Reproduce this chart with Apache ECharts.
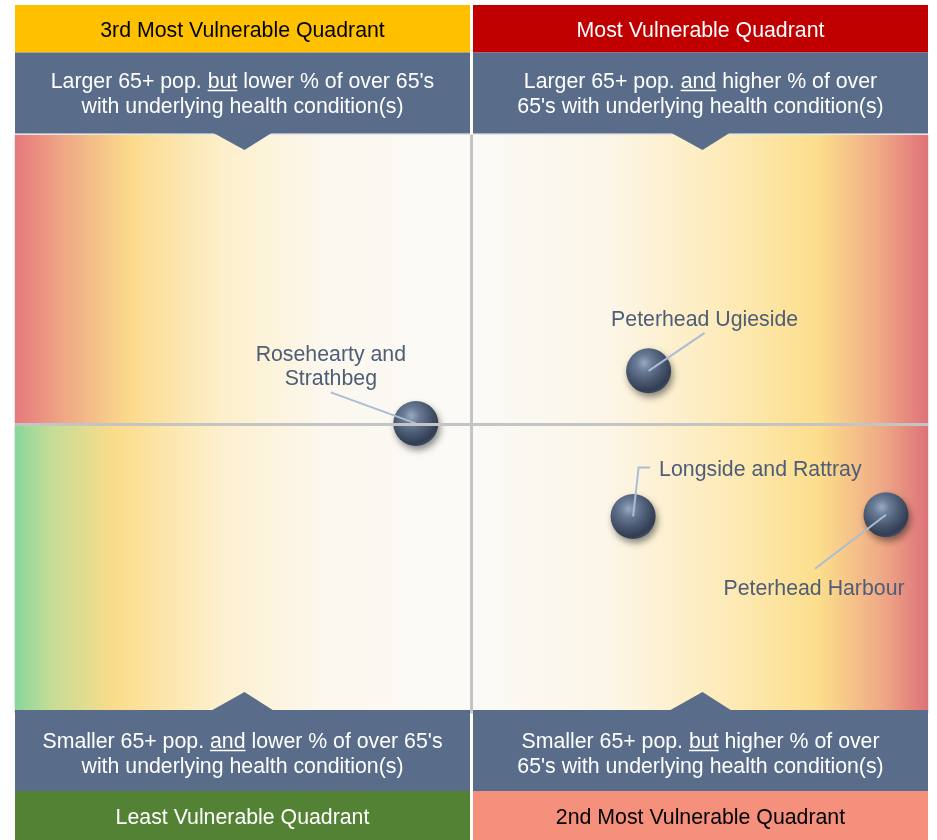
<!DOCTYPE html>
<html>
<head>
<meta charset="utf-8">
<script src="https://cdn.jsdelivr.net/npm/echarts@6/dist/echarts.min.js"></script>
<style>
html, body { margin: 0; padding: 0; background: #fff; }
#main { width: 937px; height: 840px; }
</style>
</head>
<body>
<div id="main"></div>
<script>
// areas plotted: x = % of over 65s with underlying condition, y = size of 65+ population
var areaNames = ['Rosehearty and\nStrathbeg', 'Peterhead Ugieside', 'Longside and Rattray', 'Peterhead Harbour'];
var pctCondition = [43.9, 69.4, 67.7, 95.4];
var pop65 = [50.1, 59.2, 34.0, 34.3];
var midX = 50, midY = 50;

var quadrantTitles = ['3rd Most Vulnerable Quadrant', 'Most Vulnerable Quadrant',
                      'Least Vulnerable Quadrant', '2nd Most Vulnerable Quadrant'];
// first line split as [before, underlined word, after], then second line
var quadrantNotes = [
    [['Larger 65+ pop. ', 'but', ' lower % of over 65\'s'], 'with underlying health condition(s)'],
    [['Larger 65+ pop. ', 'and', ' higher % of over'], '65\'s with underlying health condition(s)'],
    [['Smaller 65+ pop. ', 'and', ' lower % of over 65\'s'], 'with underlying health condition(s)'],
    [['Smaller 65+ pop. ', 'but', ' higher % of over'], '65\'s with underlying health condition(s)']
];

// label placement (pixels from the ball centre)
var labelOffsets = [[-85, -56], [56, -51], [26, -46.5], [-72, 74]];
var labelAligns = ['center', 'center', 'left', 'center'];
var leaderPaths = [[[-85, -31]], [[56, -38]], [[5.5, -49], [17, -49]], [[-71, 54]]];

var FONT = '21.3px "Liberation Sans", Arial, sans-serif';
var dom = document.getElementById('main');
var myChart = echarts.init(dom);

var ctx = document.createElement('canvas').getContext('2d');
ctx.font = FONT;
function textW(s) { return ctx.measureText(s).width; }

function grad(stops) {
    return new echarts.graphic.LinearGradient(0, 0, 1, 0, stops.map(function (s) {
        return {offset: s[0], color: s[1]};
    }));
}
var gradTL = grad([[0, '#E6787C'], [0.1, '#EFA585'], [0.25, '#FBDA8B'], [0.45, '#FDEFCA'], [0.68, '#FCF8EF'], [1, '#FBFAF7']]);
var gradBL = grad([[0, '#86D79C'], [0.08, '#C6DC96'], [0.22, '#FBDC8B'], [0.45, '#FDF0CE'], [0.68, '#FCF8EF'], [1, '#FBFAF7']]);
var gradTR = grad([[0, '#FBFAF7'], [0.3, '#FCF6E8'], [0.55, '#FDEBB9'], [0.76, '#FCDE8C'], [0.88, '#F1B086'], [1, '#E0727A']]);
var gradBR = grad([[0, '#FBFAF7'], [0.3, '#FCF6E8'], [0.55, '#FDEBB9'], [0.76, '#FCDE8C'], [0.9, '#EFA985'], [1, '#DE727A']]);

// header / footer panels
var boxes = [{x: 15, w: 455}, {x: 473, w: 455}];
var titleFill = ['#FFC000', '#C00000', '#548235', '#F4907C'];
var titleText = ['#000', '#fff', '#fff', '#000'];
var SLATE = '#596D8B';
var graphics = [];
for (var q = 0; q < 4; q++) {
    var b = boxes[q % 2];
    var cx = b.x + b.w / 2;
    var isTop = q < 2;
    var titleY = isTop ? 5 : 791, titleH = isTop ? 47.5 : 49;
    var noteY = isTop ? 52.5 : 710, noteH = 81;
    graphics.push({type: 'rect', z: 100, shape: {x: b.x, y: titleY, width: b.w, height: titleH}, style: {fill: titleFill[q]}});
    graphics.push({type: 'rect', z: 100, shape: {x: b.x, y: noteY, width: b.w, height: noteH}, style: {fill: SLATE}});
    if (isTop) {
        graphics.push({type: 'polygon', z: 100, shape: {points: [[cx - 29, noteY + noteH - 0.5], [cx + 29, noteY + noteH - 0.5], [cx + 2, 150]]}, style: {fill: SLATE}});
    } else {
        graphics.push({type: 'polygon', z: 100, shape: {points: [[cx - 31, noteY + 0.5], [cx + 31, noteY + 0.5], [cx + 2, 692]]}, style: {fill: SLATE}});
    }
    graphics.push({type: 'text', z: 101, style: {text: quadrantTitles[q], x: cx, y: titleY + (isTop ? 26.5 : 27), font: FONT, fill: titleText[q], align: 'center', verticalAlign: 'middle'}});
    var l1 = quadrantNotes[q][0];
    var line1 = l1.join('');
    var y1 = isTop ? 82 : 742;
    graphics.push({type: 'text', z: 101, style: {text: line1, x: cx, y: y1, font: FONT, fill: '#fff', align: 'center', verticalAlign: 'middle'}});
    graphics.push({type: 'text', z: 101, style: {text: quadrantNotes[q][1], x: cx, y: y1 + 25, font: FONT, fill: '#fff', align: 'center', verticalAlign: 'middle'}});
    var ux = cx - textW(line1) / 2 + textW(l1[0]);
    graphics.push({type: 'line', z: 101, shape: {x1: ux, y1: y1 + 8.5, x2: ux + textW(l1[1]), y2: y1 + 8.5}, style: {stroke: '#fff', lineWidth: 1.5}});
}

var points = [];
for (var i = 0; i < areaNames.length; i++) {
    points.push([pctCondition[i], pop65[i], i]);
}

var option = {
    animation: false,
    backgroundColor: '#fff',
    grid: {left: 15, right: 9, top: 135, bottom: 127, show: true, borderColor: '#C9CDC9', borderWidth: 1},
    xAxis: {type: 'value', min: 0, max: 100, show: false},
    yAxis: {type: 'value', min: 0, max: 100, show: false},
    graphic: {elements: graphics},
    series: [
        { // quadrant backgrounds and dividers
            type: 'scatter',
            z: 1,
            data: [],
            silent: true,
            markArea: {
                silent: true,
                data: [
                    [{xAxis: 0, yAxis: midY, itemStyle: {color: gradTL, opacity: 1}}, {xAxis: midX, yAxis: 100}],
                    [{xAxis: midX, yAxis: midY, itemStyle: {color: gradTR, opacity: 1}}, {xAxis: 100, yAxis: 100}],
                    [{xAxis: 0, yAxis: 0, itemStyle: {color: gradBL, opacity: 1}}, {xAxis: midX, yAxis: midY}],
                    [{xAxis: midX, yAxis: 0, itemStyle: {color: gradBR, opacity: 1}}, {xAxis: 100, yAxis: midY}]
                ]
            },
            markLine: {
                silent: true,
                symbol: 'none',
                label: {show: false},
                lineStyle: {color: '#C4C4C4', width: 3, type: 'solid'},
                data: [{xAxis: midX}, {yAxis: midY}]
            }
        },
        {
            type: 'scatter',
            z: 3,
            symbolSize: 45,
            data: points,
            itemStyle: {
                opacity: 1,
                color: {
                    type: 'radial', x: 0.4, y: 0.33, r: 0.7,
                    colorStops: [
                        {offset: 0, color: '#9AAAC4'},
                        {offset: 0.25, color: '#6B7C98'},
                        {offset: 0.6, color: '#48576F'},
                        {offset: 0.88, color: '#323D53'},
                        {offset: 1, color: '#3F4D65'}
                    ]
                },
                shadowBlur: 7,
                shadowColor: 'rgba(0,0,0,0.45)',
                shadowOffsetX: 2,
                shadowOffsetY: 4
            }
        },
        { // leader lines and labels
            type: 'custom',
            z: 4,
            silent: true,
            data: points,
            renderItem: function (params, api) {
                var idx = api.value(2);
                var c = api.coord([api.value(0), api.value(1)]);
                var pts = [[c[0], c[1]]];
                leaderPaths[idx].forEach(function (p) { pts.push([c[0] + p[0], c[1] + p[1]]); });
                var off = labelOffsets[idx];
                return {
                    type: 'group',
                    children: [
                        {type: 'polyline', shape: {points: pts}, style: {stroke: '#A9BDD6', lineWidth: 2, fill: null}},
                        {type: 'text', style: {text: areaNames[idx], x: c[0] + off[0], y: c[1] + off[1],
                            font: FONT, fill: '#4E5D78', align: labelAligns[idx], verticalAlign: 'middle', lineHeight: 24}}
                    ]
                };
            }
        }
    ]
};

if (option && typeof option === 'object') {
    myChart.setOption(option, true);
}
</script>
</body>
</html>
